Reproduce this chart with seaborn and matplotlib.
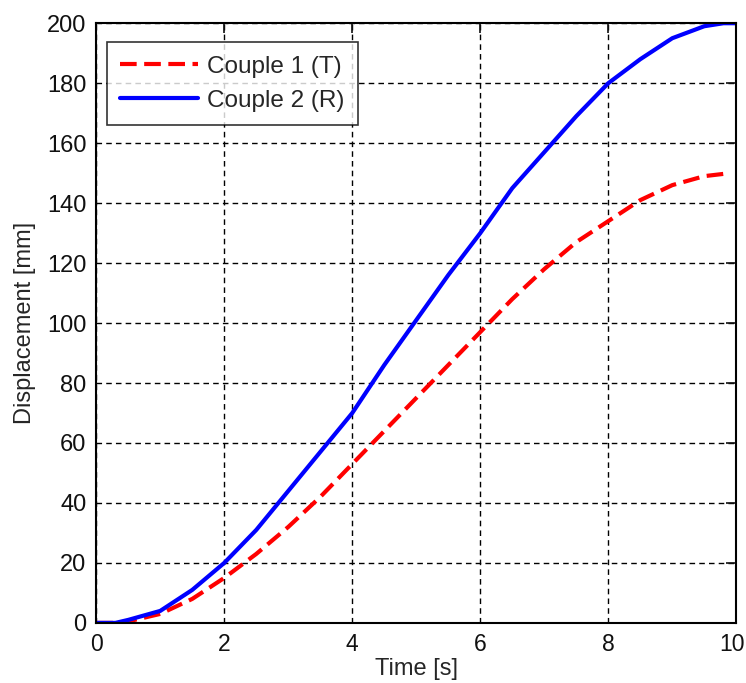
import pandas as pd
import matplotlib.pyplot as plt
import matplotlib.transforms as mtransforms
import seaborn as sns

# Couple 1 (T), red dashed
time_t = [0.0, 0.4, 0.6, 1.0, 1.5, 2.0, 2.5, 3.0, 3.5, 4.0, 4.5, 5.0, 5.5,
          6.0, 6.5, 7.0, 7.5, 8.0, 8.5, 9.0, 9.5, 9.9]
disp_t = [0, 0, 1, 3, 8, 15, 23, 32, 42, 53, 64, 75, 86,
          97, 108, 118, 127, 134, 141, 146, 149, 150]

# Couple 2 (R), blue solid
time_r = [0.0, 0.3, 0.5, 1.0, 1.5, 2.0, 2.5, 3.0, 3.5, 4.0, 4.5, 5.0, 5.5,
          6.0, 6.5, 7.0, 7.5, 8.0, 8.5, 9.0, 9.5, 9.8, 10.0]
disp_r = [0, 0, 1, 4, 11, 20, 31, 44, 57, 70, 86, 101, 116,
          130, 145, 157, 169, 180, 188, 195, 199, 200, 200]

x_ticks = [0, 2, 4, 6, 8, 10]
y_ticks = [0, 20, 40, 60, 80, 100, 120, 140, 160, 180, 200]


def main():
    sns.set_style("white")
    plt.rcParams['font.family'] = ['Liberation Sans', 'DejaVu Sans']

    df_t = pd.DataFrame({'time': time_t, 'disp': disp_t})
    df_r = pd.DataFrame({'time': time_r, 'disp': disp_r})

    fig = plt.figure(figsize=(7.46, 6.83), dpi=100)
    ax = fig.add_axes([0.129, 0.088, 0.858, 0.878])

    sns.lineplot(data=df_t, x='time', y='disp', ax=ax, color='#ff0000',
                 linewidth=3, linestyle=(0, (4, 1.8)), label='Couple 1 (T)')
    sns.lineplot(data=df_r, x='time', y='disp', ax=ax, color='#0000ff',
                 linewidth=3, label='Couple 2 (R)')

    ax.set_xlim(0, 10)
    ax.set_ylim(0, 200)
    ax.set_xticks(x_ticks)
    ax.set_yticks(y_ticks)
    ax.grid(True, color='black', linestyle=(0, (4, 3)), linewidth=1)
    ax.tick_params(direction='in', length=7, width=1.2, top=True, right=True,
                   labelsize=17, colors='#111111', pad=7)
    ax.tick_params(axis='x', labelsize=16.5)
    for sp in ax.spines.values():
        sp.set_linewidth(1.5)
        sp.set_color('black')

    # keep the last x tick label inside the figure edge
    last = ax.get_xticklabels()[-1]
    last.set_transform(last.get_transform() +
                       mtransforms.ScaledTranslation(-0.04, 0, fig.dpi_scale_trans))

    ax.set_xlabel('Time [s]', fontsize=17, labelpad=2)
    ax.set_ylabel('Displacement [mm]', fontsize=17, labelpad=8)

    leg = ax.legend(loc='upper left', fontsize=17.5, frameon=True, fancybox=False,
                    edgecolor='black', handlelength=3.2, handletextpad=0.35,
                    borderpad=0.55, labelspacing=0.5, borderaxespad=0,
                    bbox_to_anchor=(0.017, 0.968))
    leg.get_frame().set_linewidth(1.2)

    fig.savefig('out.png', dpi=100)


if __name__ == "__main__":
    main()
